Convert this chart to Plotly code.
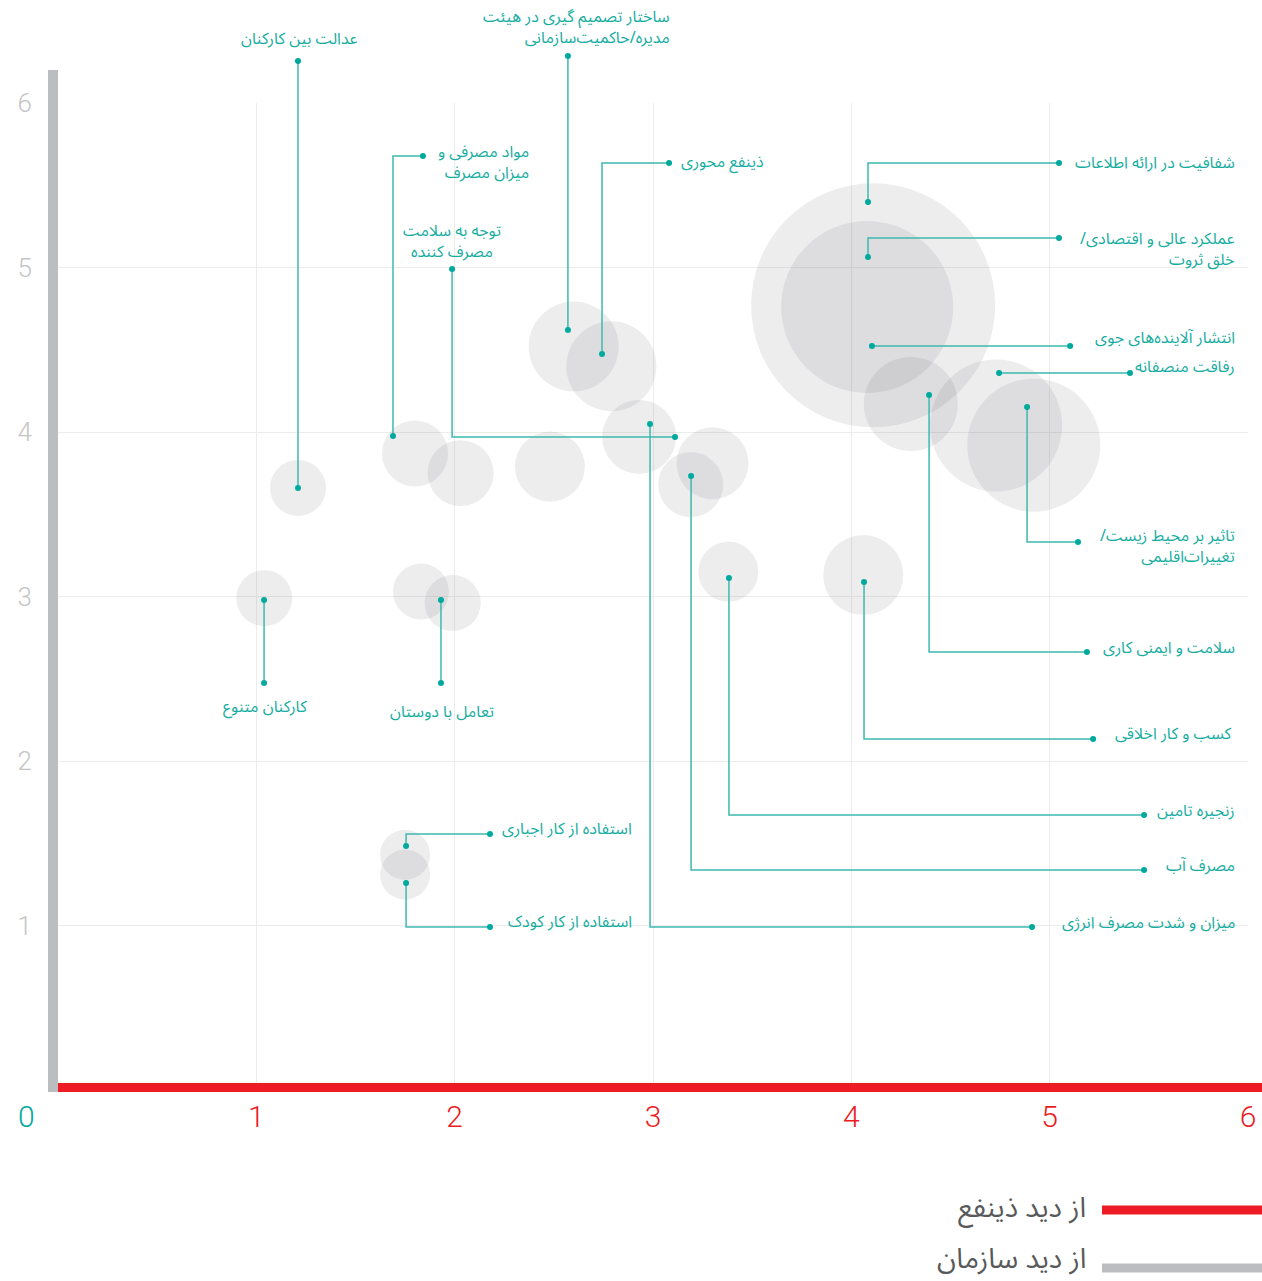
import plotly.graph_objects as go

# ---------------- data ----------------
# bubbles (x = stakeholder view, y = organisation view, size value)
bubble_x = [1.21, 1.04, 1.80, 2.03, 2.48, 1.83, 1.99, 2.60, 2.79, 2.93, 3.30, 3.19,
            3.38, 4.06, 4.11, 4.08, 4.30, 4.73, 4.92, 1.75, 1.75]
bubble_y = [3.66, 2.99, 3.87, 3.75, 3.79, 3.03, 2.96, 4.52, 4.40, 3.97, 3.81, 3.68,
            3.15, 3.13, 4.77, 4.76, 4.17, 4.04, 3.92, 1.43, 1.31]
bubble_size = [5.6, 5.6, 6.6, 6.6, 7.0, 5.6, 5.6, 9.0, 9.0, 7.4, 7.2, 6.5,
               6.0, 8.0, 24.4, 17.2, 9.4, 13.2, 13.3, 5.0, 5.0]

labels = [
    "عدالت بین کارکنان",
    "ساختار تصمیم گیری در هیئت<br>مدیره/حاکمیت\u200cسازمانی",
    "مواد مصرفی و<br>میزان مصرف",
    "ذینفع محوری",
    "توجه به سلامت<br>مصرف کننده",
    "شفافیت در ارائه اطلاعات",
    "عملکرد عالی و اقتصادی/\u200f<br>خلق ثروت",
    "انتشار آلاینده\u200cهای جوی",
    "رفاقت منصفانه",
    "تاثیر بر محیط زیست/\u200f<br>تغییرات\u200cاقلیمی",
    "سلامت و ایمنی کاری",
    "کسب و کار اخلاقی",
    "زنجیره تامین",
    "مصرف آب",
    "میزان و شدت مصرف انرژی",
    "کارکنان متنوع",
    "تعامل با دوستان",
    "استفاده از کار اجباری",
    "استفاده از کار کودک",
]
label_x = [1.215, 3.096, 2.385, 3.131, 1.987, 5.945, 5.945, 5.945, 5.945, 5.945,
           5.945, 5.930, 5.945, 5.945, 5.945, 1.044, 1.936, 2.904, 2.904]
label_y = [6.389, 6.459, 5.638, 5.641, 5.158, 5.635, 5.112, 4.571, 4.395, 3.301,
           2.687, 2.164, 1.696, 1.362, 1.015, 2.328, 2.298, 1.587, 1.021]
label_align = ["center", "right", "right", "left", "center", "right", "right", "right",
               "right", "right", "right", "right", "right", "right", "right",
               "center", "center", "right", "right"]

# leader lines: point on bubble -> end near label
point_x = [1.210, 2.571, 1.689, 2.743, 3.111, 4.084, 4.084, 4.104, 4.745, 4.886,
           4.392, 4.064, 3.383, 3.192, 2.985, 1.039, 1.931, 1.755, 1.755]
point_y = [3.660, 4.620, 3.976, 4.474, 3.970, 5.398, 5.064, 4.523, 4.359, 4.152,
           4.225, 3.088, 3.112, 3.733, 4.049, 2.979, 2.979, 1.483, 1.258]
end_x = [1.210, 2.571, 1.840, 3.081, 1.987, 5.047, 5.047, 5.103, 5.405, 5.143,
         5.188, 5.219, 5.476, 5.476, 4.911, 1.039, 1.931, 2.178, 2.178]
end_y = [6.255, 6.286, 5.678, 5.635, 4.991, 5.635, 5.179, 4.523, 4.359, 3.331,
         2.663, 2.134, 1.672, 1.337, 0.991, 2.474, 2.474, 1.556, 0.991]
route = ["v", "v", "v", "v", "h", "v", "v", "v", "v", "v",
         "v", "v", "v", "v", "v", "v", "v", "v", "v"]

x_ticks = [1, 2, 3, 4, 5, 6]
y_ticks = [1, 2, 3, 4, 5, 6]
legend_names = ["از دید ذینفع", "از دید سازمان"]

# ---------------- style ----------------
TEAL = "#00A99D"
TEAL_LINE = "#3DB9AE"
RED = "#ED1C24"
GRAY_BAR = "#BCBDC0"
LABEL_FONT = "Noto Sans Arabic, DejaVu Sans, sans-serif"
NUM_FONT = "Roboto, sans-serif"

W, H = 1262, 1281
ML, MR, MT, MB = 58, 14, 0, 191
PLOT_H = H - MT - MB          # 1090
Y_UNIT = 164.5
Y_DOM_TOP = 6 * Y_UNIT / PLOT_H
Y2_MAX = PLOT_H / Y_UNIT

fig = go.Figure()

# bubbles
fig.add_trace(go.Scatter(
    x=bubble_x, y=bubble_y, mode="markers", xaxis="x", yaxis="y",
    marker=dict(size=bubble_size, sizemode="diameter", sizeref=0.1,
                color="rgba(96,99,108,0.16)", line=dict(width=0)),
    hoverinfo="skip", showlegend=False,
))

# leader lines
lx, ly = [], []
for px, py, ex, ey, r in zip(point_x, point_y, end_x, end_y, route):
    if r == "v":
        lx += [px, px, ex, None]
        ly += [py, ey, ey, None]
    else:
        lx += [px, ex, ex, None]
        ly += [py, py, ey, None]
fig.add_trace(go.Scatter(
    x=lx, y=ly, mode="lines", xaxis="x2", yaxis="y2",
    line=dict(color=TEAL_LINE, width=1.5), hoverinfo="skip", showlegend=False,
))
fig.add_trace(go.Scatter(
    x=point_x + end_x, y=point_y + end_y, mode="markers", xaxis="x2", yaxis="y2",
    marker=dict(size=6, color=TEAL), hoverinfo="skip", showlegend=False,
    cliponaxis=False,
))

annotations = []
for t, x, y, a in zip(labels, label_x, label_y, label_align):
    annotations.append(dict(
        text=t, x=x, y=y, xref="x2", yref="y2", xanchor=a, yanchor="middle",
        align=a if a != "left" else "right", showarrow=False,
        font=dict(family=LABEL_FONT, size=16, color="#16ADA0"),
    ))

PW = W - ML - MR
def px_to_paper_x(p):
    return (p - ML) / PW
def py_to_paper_y(p):
    return (PLOT_H + MT - p) / PLOT_H

# origin label
annotations.append(dict(text="0", x=px_to_paper_x(26), y=py_to_paper_y(1116),
                        xref="paper", yref="paper", showarrow=False,
                        xanchor="center", yanchor="middle",
                        font=dict(family=NUM_FONT, size=30, color=TEAL, weight=300)))
# legend texts
for name, cy in zip(legend_names, [1208, 1259]):
    annotations.append(dict(text=name, x=px_to_paper_x(1088), y=py_to_paper_y(cy),
                            xref="paper", yref="paper", showarrow=False,
                            xanchor="right", yanchor="middle",
                            font=dict(family=LABEL_FONT, size=28, color="#58595B")))

shapes = [
    # gray vertical bar (organisation axis)
    dict(type="rect", xref="paper", yref="paper",
         x0=px_to_paper_x(48), x1=px_to_paper_x(58),
         y0=py_to_paper_y(1092), y1=py_to_paper_y(70),
         fillcolor=GRAY_BAR, line=dict(width=0), layer="above"),
    # red horizontal bar (stakeholder axis)
    dict(type="rect", xref="paper", yref="paper",
         x0=px_to_paper_x(58), x1=px_to_paper_x(1262),
         y0=py_to_paper_y(1092), y1=py_to_paper_y(1083),
         fillcolor=RED, line=dict(width=0), layer="above"),
    # legend swatches
    dict(type="rect", xref="paper", yref="paper",
         x0=px_to_paper_x(1102), x1=px_to_paper_x(1262),
         y0=py_to_paper_y(1214.5), y1=py_to_paper_y(1205.5),
         fillcolor=RED, line=dict(width=0)),
    dict(type="rect", xref="paper", yref="paper",
         x0=px_to_paper_x(1102), x1=px_to_paper_x(1262),
         y0=py_to_paper_y(1272.5), y1=py_to_paper_y(1263.5),
         fillcolor=GRAY_BAR, line=dict(width=0)),
]

fig.update_layout(
    width=W, height=H,
    margin=dict(l=ML, r=MR, t=MT, b=MB, pad=0, autoexpand=False),
    paper_bgcolor="white", plot_bgcolor="rgba(0,0,0,0)",
    showlegend=False,
    xaxis=dict(domain=[0, 1], anchor="y", range=[0, 6], tickvals=x_ticks,
               showgrid=True, gridcolor="#ECECEC", gridwidth=1, zeroline=False,
               showline=False, ticks="", ticklabelstandoff=6,
               automargin=False,
               tickfont=dict(family=NUM_FONT, size=30, color=RED, weight=300),
               fixedrange=True),
    yaxis=dict(domain=[0, Y_DOM_TOP], anchor="x", range=[0, 6], tickvals=y_ticks,
               showgrid=True, gridcolor="#ECECEC", gridwidth=1, zeroline=False,
               showline=False, ticks="outside", ticklen=20, tickcolor="rgba(0,0,0,0)",
               automargin=False,
               tickfont=dict(family=NUM_FONT, size=26, color="#C4C5C7", weight=300),
               fixedrange=True),
    xaxis2=dict(domain=[0, 1], anchor="y2", range=[0, 6], visible=False,
                automargin=False, fixedrange=True),
    yaxis2=dict(domain=[0, 1], anchor="x2", range=[0, Y2_MAX], visible=False,
                automargin=False, fixedrange=True),
    annotations=annotations,
    shapes=shapes,
)

fig.write_html("out.html", config={"displayModeBar": False},
               post_script="document.body.style.margin='0';document.body.style.overflow='hidden';")
